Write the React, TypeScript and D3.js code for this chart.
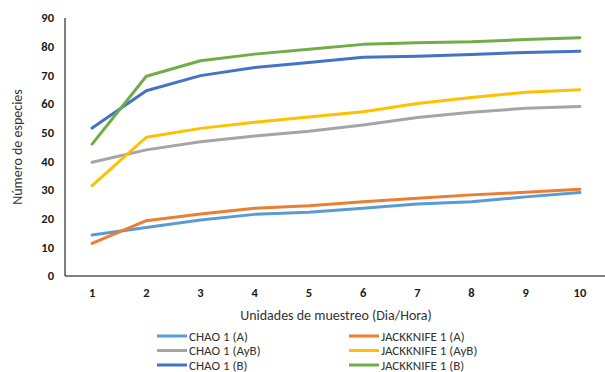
import React, { useEffect, useRef } from "react";
import * as d3 from "d3";

// Sampling units (x) and species counts per estimator
const units = [1, 2, 3, 4, 5, 6, 7, 8, 9, 10];
const yTicks = [0, 10, 20, 30, 40, 50, 60, 70, 80, 90];

const chaoA = [14.3, 16.9, 19.5, 21.5, 22.2, 23.6, 25.1, 25.9, 27.6, 29.1];
const jackA = [11.4, 19.3, 21.6, 23.6, 24.5, 25.9, 27.1, 28.3, 29.2, 30.3];
const chaoAyB = [39.7, 44, 46.8, 48.8, 50.5, 52.7, 55.3, 57.1, 58.5, 59.1];
const jackAyB = [31.5, 48.4, 51.5, 53.6, 55.5, 57.3, 60.2, 62.3, 64.1, 65];
const chaoB = [51.6, 64.6, 69.9, 72.7, 74.5, 76.3, 76.7, 77.3, 78, 78.4];
const jackB = [46, 69.7, 75.1, 77.4, 79.1, 80.8, 81.4, 81.7, 82.5, 83.1];

const seriesNames = [
  "CHAO 1 (A)",
  "JACKKNIFE 1 (A)",
  "CHAO 1 (AyB)",
  "JACKKNIFE 1 (AyB)",
  "CHAO 1 (B)",
  "JACKKNIFE 1 (B)",
];
const seriesColors = ["#5B9BD5", "#ED7D31", "#A5A5A5", "#FFC000", "#4472C4", "#70AD47"];
const seriesValues = [chaoA, jackA, chaoAyB, jackAyB, chaoB, jackB];

export default function App() {
  const svgRef = useRef<SVGSVGElement | null>(null);

  useEffect(() => {
    const width = 605;
    const height = 372;
    const left = 65;
    const top = 18;
    const bottom = 276;
    const right = 607;
    const font = "Carlito, Lato, 'Open Sans', sans-serif";

    const svg = d3.select(svgRef.current)
      .attr("width", width)
      .attr("height", height)
      .style("display", "block")
      .style("font-family", font);

    svg.selectAll("*").remove();

    svg.append("rect").attr("width", width).attr("height", height).attr("fill", "#fff");

    const x = d3.scaleBand<number>().domain(units).range([left, right]);
    const y = d3.scaleLinear().domain([0, 90]).range([bottom, top]);

    // y tick labels
    svg.append("g")
      .selectAll("text")
      .data(yTicks)
      .join("text")
      .attr("x", 54)
      .attr("y", d => y(d))
      .attr("dy", "0.35em")
      .attr("text-anchor", "end")
      .attr("font-size", 12.5)
      .attr("font-weight", "bold")
      .attr("fill", "#1a1a1a")
      .text(d => d);

    // x tick labels
    svg.append("g")
      .selectAll("text")
      .data(units)
      .join("text")
      .attr("x", d => x(d)! + x.bandwidth() / 2)
      .attr("y", 293)
      .attr("dy", "0.35em")
      .attr("text-anchor", "middle")
      .attr("font-size", 12.5)
      .attr("font-weight", "bold")
      .attr("fill", "#1a1a1a")
      .text(d => d);

    // lines
    const line = d3.line<number>()
      .x((_, i) => x(units[i])! + x.bandwidth() / 2)
      .y(d => y(d));

    svg.append("g")
      .attr("fill", "none")
      .attr("stroke-width", 3)
      .attr("stroke-linejoin", "round")
      .attr("stroke-linecap", "round")
      .selectAll("path")
      .data(seriesValues)
      .join("path")
      .attr("stroke", (_, i) => seriesColors[i])
      .attr("d", d => line(d));

    // axis lines
    svg.append("path")
      .attr("d", `M${left},${top}V${bottom}H${right}`)
      .attr("fill", "none")
      .attr("stroke", "#000")
      .attr("stroke-width", 1);

    // axis titles
    svg.append("text")
      .attr("x", 336)
      .attr("y", 315)
      .attr("dy", "0.35em")
      .attr("text-anchor", "middle")
      .attr("font-size", 14)
      .attr("fill", "#333")
      .text("Unidades de muestreo (Dia/Hora)");

    svg.append("text")
      .attr("transform", "translate(17,147) rotate(-90)")
      .attr("dy", "0.35em")
      .attr("text-anchor", "middle")
      .attr("font-size", 14)
      .attr("fill", "#333")
      .text("Número de especies");

    // legend: two columns, three rows
    const legend = svg.append("g")
      .selectAll("g")
      .data(seriesNames)
      .join("g")
      .attr("transform", (_, i) => `translate(${i % 2 === 0 ? 157 : 349},${336 + Math.floor(i / 2) * 14.5})`);

    legend.append("line")
      .attr("x1", 0)
      .attr("x2", 30)
      .attr("stroke", (_, i) => seriesColors[i])
      .attr("stroke-width", 3);

    legend.append("text")
      .attr("x", 32)
      .attr("dy", "0.35em")
      .attr("font-size", 13)
      .attr("fill", "#333")
      .text(d => d);
  }, []);

  return <svg ref={svgRef} style={{ position: "absolute", left: 0, top: 0 }} />;
}
